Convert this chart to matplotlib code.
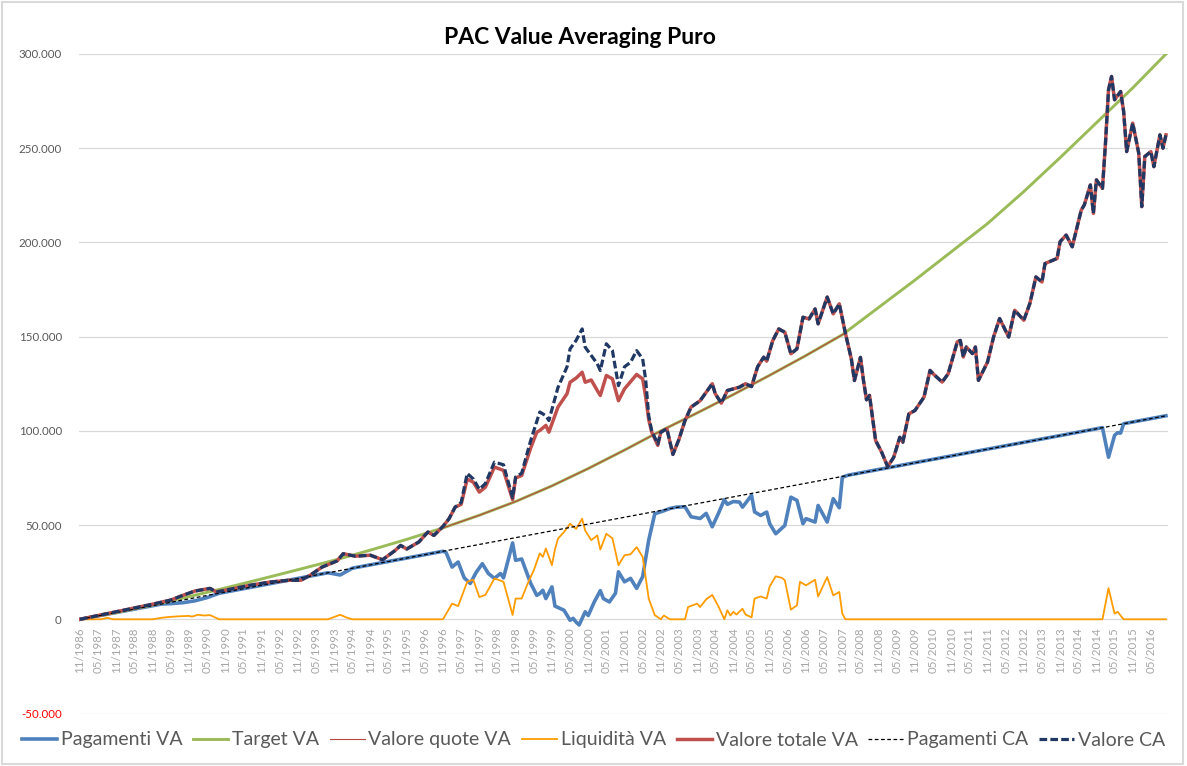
import matplotlib.pyplot as plt
from matplotlib.patches import Rectangle
import numpy as np
import pandas as pd

plt.rcParams['font.family'] = ['Lato', 'DejaVu Sans']

# asse delle categorie: un punto al mese, da 11/1986 a 10/2016
MESI = pd.date_range('1986-11-01', '2016-10-01', freq='MS')

# letture dal grafico: (mesi trascorsi dall'11/1986, valore in migliaia di euro)
TARGET_VA = [(0, 0), (12, 3.6), (24, 7.6), (36, 12.0), (48, 16.6), (60, 21.4), (72, 26.3),
             (84, 31.3), (96, 36.7), (108, 42.4), (120, 48.5), (132, 55.2), (144, 62.5),
             (156, 70.8), (168, 80.0), (180, 89.8), (192, 100.0), (204, 109.5), (216, 119.3),
             (228, 129.5), (240, 140.0), (252, 151.0), (264, 165.5), (276, 180.0), (288, 195.0),
             (300, 210.0), (312, 227.0), (324, 245.0), (336, 263.5), (348, 282.0), (359, 300.0)]

PAGAMENTI_CA = [(0, 0), (359, 108.0)]

PAGAMENTI_VA = [(0, 0), (24, 7.2), (27, 8.1), (30, 8.3), (34, 8.8), (38, 9.8), (42, 11.5), (46, 13.8),
                (82, 24.7), (86, 23.5), (90, 27.1), (120, 36.1), (121, 35.5), (123, 27.7), (125, 30.4),
                (127, 22.0), (129, 19.0), (131, 25.0), (133, 29.5), (135, 24.3), (137, 21.7), (139, 24.3),
                (140, 22.0), (143, 40.5), (144, 31.3), (146, 32.0), (149, 19.0), (151, 12.7), (152, 13.7),
                (153, 15.4), (154, 11.0), (156, 17.2), (157, 7.0), (160, 4.8), (162, -0.5), (163, 0.5),
                (164, -1.5), (165, -3.0), (167, 4.0), (168, 2.0), (170, 9.2), (172, 15.2), (173, 11.0),
                (175, 9.2), (177, 13.8), (178, 25.2), (180, 19.9), (182, 21.7), (184, 16.4), (186, 22.6),
                (188, 42.0), (190, 56.0), (193, 57.6), (195, 58.8), (197, 59.5), (200, 59.7), (202, 54.4),
                (205, 53.5), (207, 56.2), (209, 49.1), (211, 56.0), (213, 63.5), (214, 61.0), (216, 62.5),
                (218, 62.2), (219, 59.5), (222, 65.8), (223, 57.0), (225, 55.1), (227, 56.9), (228, 50.7),
                (230, 45.4), (233, 49.8), (235, 64.8), (237, 63.1), (239, 50.7), (240, 53.4), (243, 51.6),
                (244, 60.4), (247, 51.6), (249, 64.0), (251, 59.2), (252, 75.4), (254, 76.5), (338, 101.7),
                (340, 86.0), (342, 97.6), (343, 99.0), (344, 98.8), (345, 103.8), (359, 108.0)]

LIQUIDITA_VA = [(0, 0), (7, 0), (9, 0.8), (11, 0), (24, 0), (27, 0.8), (30, 1.3), (33, 1.6), (36, 1.8),
                (37, 1.4), (39, 2.4), (41, 2.0), (43, 2.2), (46, 0), (82, 0), (86, 2.4), (88, 1.0), (90, 0),
                (120, 0), (123, 8.3), (125, 7.0), (128, 19.9), (130, 21.0), (132, 11.8), (134, 12.9),
                (137, 21.7), (140, 19.9), (143, 2.3), (144, 11.0), (146, 11.0), (148, 19.0), (150, 26.0),
                (152, 35.0), (153, 33.1), (154, 37.6), (156, 28.7), (157, 37.0), (158, 42.8), (160, 46.3),
                (162, 50.7), (164, 48.0), (166, 53.4), (167, 47.1), (169, 42.0), (171, 44.5), (172, 37.0),
                (174, 45.4), (176, 43.0), (178, 28.7), (180, 34.0), (182, 34.5), (184, 38.3), (186, 33.1),
                (188, 11.0), (190, 2.2), (192, 0), (193, 2.0), (195, 0), (200, 0), (201, 6.5), (204, 8.3),
                (205, 6.5), (207, 10.6), (209, 12.9), (211, 7.0), (213, 0), (214, 4.8), (215, 2.0),
                (216, 4.0), (217, 2.5), (219, 5.6), (220, 2.5), (222, 1.0), (223, 11.0), (225, 12.1),
                (227, 11.0), (228, 17.5), (230, 22.8), (232, 22.0), (233, 20.7), (235, 5.1), (237, 7.4),
                (238, 19.9), (240, 18.0), (243, 21.0), (244, 12.1), (247, 22.4), (249, 12.7), (251, 14.5),
                (252, 3.0), (253, 0), (338, 0), (340, 16.5), (342, 3.0), (343, 4.0), (345, 0), (359, 0)]

VALORE_TOTALE_VA = [(0, 0), (6, 2.0), (13, 4.3), (24, 8.0), (30, 10.2), (34, 12.7), (38, 15.0), (43, 16.4),
                    (45, 14.5), (48, 15.4), (56, 18.0), (63, 19.8), (69, 20.7), (73, 20.7), (76, 23.3),
                    (80, 27.7), (85, 31.0), (87, 34.8), (91, 33.5), (96, 34.0), (100, 31.6), (104, 36.3),
                    (106, 39.2), (108, 37.3), (112, 41.0), (115, 46.3), (117, 44.5), (120, 49.3), (122, 53.4),
                    (124, 59.5), (126, 61.0), (128, 74.4), (130, 72.8), (132, 67.5), (134, 70.1), (137, 80.8),
                    (140, 79.0), (143, 63.5), (144, 75.0), (146, 76.3), (149, 91.0), (151, 99.3), (152, 100.2),
                    (154, 102.9), (155, 99.3), (158, 112.6), (161, 119.7), (162, 125.8), (164, 128.0),
                    (166, 131.1), (167, 125.8), (169, 127.0), (171, 121.4), (172, 118.8), (174, 129.4),
                    (176, 127.6), (178, 116.0), (180, 122.3), (184, 129.9), (186, 127.6), (187, 118.0),
                    (188, 106.0), (189, 99.3), (191, 92.3), (192, 99.3), (194, 101.1), (196, 87.5), (198, 95.5),
                    (200, 105.5), (202, 112.6), (205, 116.0), (209, 125.0), (210, 119.7), (212, 114.7),
                    (214, 121.4), (218, 123.2), (220, 125.0), (222, 123.5), (224, 134.0), (226, 139.1),
                    (227, 137.0), (229, 147.9), (231, 154.1), (233, 152.3), (235, 140.9), (237, 143.5),
                    (239, 160.3), (241, 159.4), (243, 164.7), (244, 156.8), (247, 171.0), (249, 162.1),
                    (251, 167.4), (253, 152.0), (255, 138.0), (256, 126.7), (258, 139.0), (259, 126.7),
                    (260, 116.5), (261, 118.8), (263, 94.9), (265, 88.7), (267, 81.0), (269, 86.0), (271, 96.6),
                    (272, 94.0), (274, 109.0), (276, 110.8), (279, 117.9), (281, 132.1), (282, 130.3),
                    (285, 125.9), (287, 130.3), (290, 147.2), (291, 148.0), (292, 139.2), (293, 144.5),
                    (295, 141.0), (296, 144.5), (297, 126.8), (300, 136.5), (302, 149.8), (304, 159.6),
                    (307, 149.8), (309, 164.0), (312, 158.7), (314, 167.6), (316, 181.7), (318, 179.0),
                    (319, 188.8), (323, 191.5), (324, 200.4), (326, 203.9), (328, 197.7), (331, 217.2),
                    (332, 219.9), (334, 230.5), (335, 215.4), (336, 233.2), (338, 228.7), (339, 252.7),
                    (340, 281.0), (341, 288.1), (342, 275.7), (344, 280.1), (345, 269.5), (346, 248.2),
                    (348, 263.3), (350, 247.3), (351, 219.0), (352, 245.6), (354, 248.2), (355, 240.2),
                    (357, 257.1), (358, 250.0), (359, 257.1)]

# tratto in cui il Valore CA si stacca dal Valore totale VA (1997-2002)
VALORE_CA_SCOSTAMENTO = [(126, 62.0), (128, 77.4), (130, 74.5), (132, 69.0), (134, 72.0), (137, 83.4),
                         (140, 82.0), (143, 64.5), (144, 75.5), (146, 77.5), (149, 95.0), (151, 105.0),
                         (152, 110.0), (154, 108.0), (155, 105.5), (158, 123.0), (161, 134.0), (162, 143.5),
                         (164, 148.0), (166, 154.1), (167, 144.4), (169, 140.0), (171, 135.6), (172, 132.0),
                         (174, 146.2), (176, 142.6), (178, 124.0), (180, 134.0), (182, 136.4), (184, 142.6),
                         (186, 138.2), (187, 127.0), (188, 108.0), (189, 100.0), (191, 93.0)]

VALORE_CA = ([p for p in VALORE_TOTALE_VA if p[0] < 126] + VALORE_CA_SCOSTAMENTO
             + [p for p in VALORE_TOTALE_VA if p[0] > 191])

# le quote seguono il target finche' c'e' liquidita' (12/1996 - 11/2007)
VALORE_QUOTE_VA = ([p for p in VALORE_TOTALE_VA if p[0] < 120]
                   + [p for p in TARGET_VA if 120 <= p[0] <= 252]
                   + [p for p in VALORE_TOTALE_VA if p[0] >= 253])


def serie(punti):
    m, v = zip(*punti)
    return np.array(m), np.array(v) * 1000


fig = plt.figure(figsize=(11.87, 7.66), dpi=100)
ax = fig.add_axes([78.5 / 1187, 52.5 / 766, 1089 / 1187, 659.5 / 766])

ax.plot(*serie(PAGAMENTI_VA), color='#4F81BD', lw=2.6, label='Pagamenti VA')
ax.plot(*serie(TARGET_VA), color='#9BBB59', lw=2.1, label='Target VA')
ax.plot(*serie(VALORE_QUOTE_VA), color='#B5473F', lw=0.8, label='Valore quote VA')
ax.plot(*serie(LIQUIDITA_VA), color='#FF9C00', lw=1.3, label='Liquidità VA')
ax.plot(*serie(VALORE_TOTALE_VA), color='#C0504D', lw=2.5, label='Valore totale VA')
ax.plot(*serie(PAGAMENTI_CA), color='black', lw=0.9, ls=(0, (3, 2)), label='Pagamenti CA')
ax.plot(*serie(VALORE_CA), color='#1F3864', lw=2.3, ls=(0, (2.4, 1.0)), label='Valore CA')

ax.set_xlim(-0.5, len(MESI) - 0.5)
ax.set_ylim(-50000, 300000)

for s in ax.spines.values():
    s.set_visible(False)
# l'asse delle categorie incrocia a 0: le etichette partono sotto lo zero
ax.spines['bottom'].set_position(('data', 0))

yt = np.arange(-50000, 300001, 50000)
ax.set_yticks(yt)
ax.set_yticklabels([f'{v:,.0f}'.replace(',', '.') for v in yt])
for lab, v in zip(ax.get_yticklabels(), yt):
    lab.set_color('#FF0000' if v < 0 else '#595959')
ax.tick_params(axis='y', length=0, pad=12, labelsize=8.3)

xt = np.arange(0, len(MESI), 6)
ax.set_xticks(xt)
ax.set_xticklabels([MESI[i].strftime('%m/%Y') for i in xt], rotation=90, va='top')
ax.tick_params(axis='x', length=0, pad=6, labelsize=8.3, labelcolor='#A6A6A6')

ax.grid(axis='y', color='#D9D9D9', lw=0.9)
ax.set_axisbelow(True)

fig.text(579.5 / 1187, 1 - 37 / 766, 'PAC Value Averaging Puro', ha='center', va='center',
         fontsize=16.5, fontweight='bold')

fig.legend(*ax.get_legend_handles_labels(), loc='center', bbox_to_anchor=(0.5, 26 / 766),
           ncol=7, frameon=False, fontsize=14, handlelength=1.8, handletextpad=0.2,
           columnspacing=0.55, labelcolor='#595959')

fig.patches.append(Rectangle((0.002, 0.003), 0.995, 0.994, transform=fig.transFigure,
                             fill=False, edgecolor='#D9D9D9', lw=1.5))

fig.savefig('out.png', dpi=100)
